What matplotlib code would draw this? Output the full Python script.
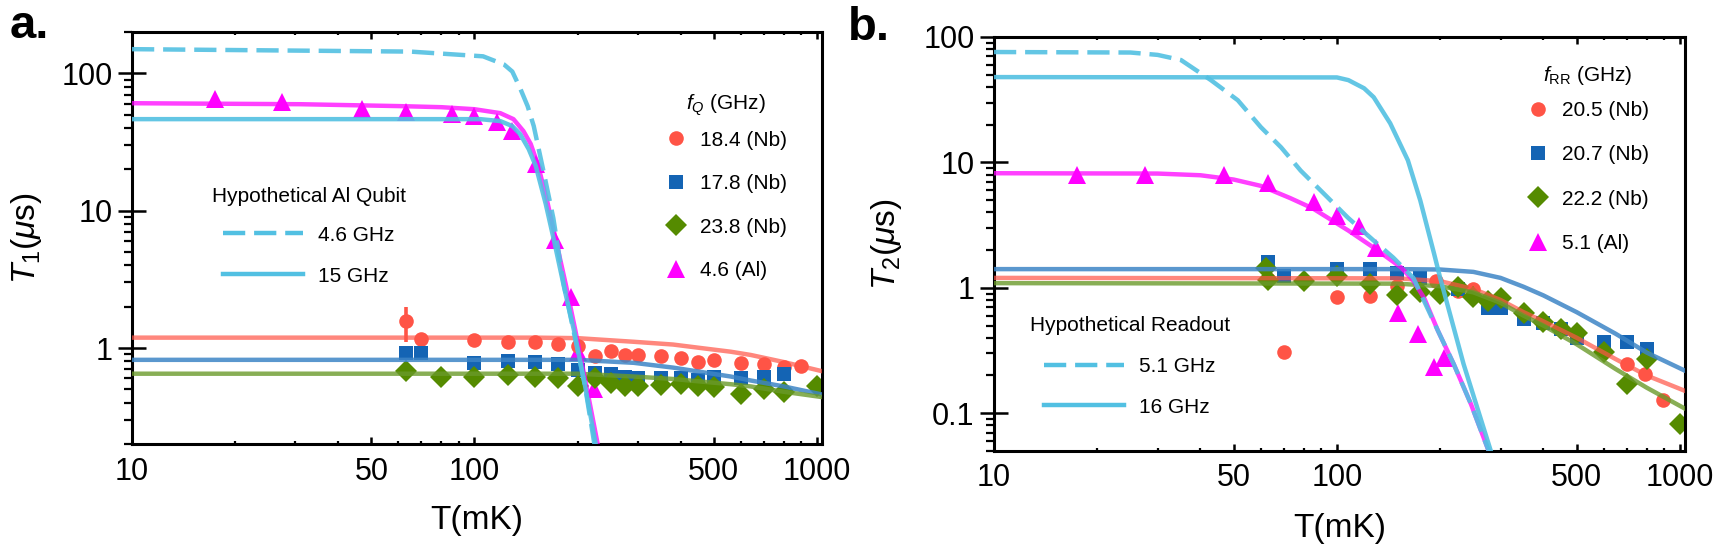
import numpy as np
import matplotlib
matplotlib.use('Agg')
import matplotlib.pyplot as plt
from matplotlib.lines import Line2D
from matplotlib.ticker import FixedLocator, NullFormatter, LogLocator

plt.rcParams['font.family'] = ['Liberation Sans', 'DejaVu Sans']
plt.rcParams['mathtext.fontset'] = 'custom'
plt.rcParams['mathtext.rm'] = 'Liberation Sans'
plt.rcParams['mathtext.it'] = 'Liberation Sans:italic'
plt.rcParams['mathtext.bf'] = 'Liberation Sans:bold'

# ---------------- panel a : T1 ----------------
T_al_a = [17.5, 27.5, 47, 63, 86, 100, 116, 129, 151, 172, 191, 200, 223]
T1_al = [65, 62, 55, 52.5, 50.7, 49.3, 44.4, 38, 21.9, 6.1, 2.34, 0.93, 0.50]

T_red_a = [63, 70, 100, 125, 150, 175, 200, 225, 250, 275, 300, 350, 400, 450, 500, 600, 700, 800, 900]
T1_red = [1.57, 1.16, 1.14, 1.11, 1.11, 1.07, 1.03, 0.87, 0.95, 0.89, 0.89, 0.87, 0.85, 0.79, 0.82, 0.78, 0.76, 0.73, 0.74]
T1_red_err_lo = [1.57 - 1.10]
T1_red_err_hi = [1.98 - 1.57]

T_blue_a = [63, 70, 100, 125, 150, 175, 200, 225, 250, 275, 300, 350, 400, 450, 500, 600, 700, 800]
T1_blue = [0.92, 0.92, 0.78, 0.805, 0.79, 0.76, 0.69, 0.66, 0.65, 0.62, 0.60, 0.60, 0.60, 0.58, 0.61, 0.60, 0.62, 0.65]

T_green_a = [63, 80, 100, 125, 150, 175, 200, 225, 250, 275, 300, 350, 400, 450, 500, 600, 700, 800, 1000]
T1_green = [0.68, 0.62, 0.62, 0.64, 0.62, 0.60, 0.53, 0.60, 0.56, 0.53, 0.53, 0.54, 0.55, 0.53, 0.52, 0.46, 0.50, 0.48, 0.53]

# fits, panel a
fitA_al_T = [10, 31, 61, 80, 100, 119, 130, 139, 146, 153, 163, 173, 185, 197, 212, 229]
fitA_al = [60.6, 59.6, 57.7, 56.7, 54.8, 51.3, 46.4, 38.0, 30.6, 21.9, 11.8, 6.07, 2.87, 1.35, 0.54, 0.20]
fitA_15_T = [10, 104, 119, 129, 136, 144, 151, 161.5, 171.5, 183, 196, 211, 226]
fitA_15 = [46.4, 46.4, 44.9, 41.3, 36.1, 28.1, 21.2, 11.2, 5.77, 2.72, 1.29, 0.51, 0.20]
fitA_46_T = [10, 65, 106, 122, 129, 136, 143, 149, 159, 170, 182, 194.5, 210, 224]
fitA_46 = [150, 144, 133, 116, 103, 77.8, 57.7, 41.3, 19.5, 8.8, 2.96, 1.35, 0.54, 0.20]
fitA_nb_T = [10, 150, 200, 292, 380, 458, 560, 641, 801, 1030]
fitA_red = [1.19, 1.19, 1.18, 1.11, 1.06, 1.0, 0.94, 0.89, 0.79, 0.68]
fitA_blue = [0.82, 0.82, 0.82, 0.78, 0.72, 0.67, 0.62, 0.58, 0.525, 0.46]
fitA_green = [0.65, 0.65, 0.65, 0.62, 0.595, 0.57, 0.545, 0.525, 0.48, 0.44]

# ---------------- panel b : T2 ----------------
T_al_b = [17.5, 27.5, 47, 63, 86, 100, 116, 130, 151, 172, 192, 205]
T2_al = [8.0, 8.0, 7.9, 6.9, 4.8, 3.77, 3.13, 2.09, 0.63, 0.43, 0.233, 0.275]

T_red_b = [63, 70, 100, 125, 150, 195, 225, 250, 700, 790, 890]
T2_red = [1.18, 0.31, 0.85, 0.86, 1.04, 1.14, 0.95, 0.98, 0.247, 0.205, 0.127]

T_blue_b = [63, 70, 100, 125, 150, 175, 225, 275, 300, 350, 400, 450, 500, 600, 700, 800]
T2_blue = [1.62, 1.25, 1.42, 1.42, 1.32, 1.2, 0.97, 0.69, 0.69, 0.565, 0.525, 0.47, 0.40, 0.37, 0.37, 0.325]

T_green_b = [62, 63, 80, 100, 125, 150, 175, 200, 225, 250, 275, 300, 350, 400, 450, 500, 600, 700, 800, 1000]
T2_green = [1.45, 1.15, 1.14, 1.25, 1.08, 0.88, 0.92, 0.90, 1.01, 0.85, 0.79, 0.83, 0.63, 0.53, 0.47, 0.44, 0.31, 0.17, 0.27, 0.082]

# fits, panel b
fitB_al_T = [10, 30, 40, 50, 60, 73, 85, 108, 128, 154, 167, 180, 197, 219, 246, 277]
fitB_al = [8.2, 8.15, 7.9, 7.3, 6.5, 5.2, 4.3, 2.86, 2.09, 1.45, 1.14, 0.82, 0.455, 0.247, 0.118, 0.05]
fitB_51_T = [10, 25, 30, 35.1, 42.9, 51.4, 60, 68.7, 78.4, 94, 107.6, 128, 146, 167, 197, 219, 246, 277]
fitB_51 = [75.9, 75.2, 72, 65.5, 45.3, 31.3, 19.1, 13.2, 8.6, 5.25, 3.63, 2.38, 1.74, 1.2, 0.455, 0.247, 0.118, 0.05]
fitB_16_T = [10, 100, 108, 120, 128, 143, 161, 175, 192, 200, 234, 281]
fitB_16 = [47.9, 47.6, 45.3, 39, 33.1, 20.5, 10.4, 4.97, 1.87, 1.2, 0.247, 0.05]
fitB_nb_T = [10, 150, 200, 250, 300, 350, 400, 500, 650, 800, 1040]
fitB_red = [1.2, 1.19, 1.13, 0.98, 0.80, 0.64, 0.54, 0.40, 0.27, 0.20, 0.15]
fitB_blue = [1.41, 1.41, 1.40, 1.34, 1.2, 1.02, 0.87, 0.64, 0.43, 0.305, 0.217]
fitB_green = [1.09, 1.08, 1.03, 0.92, 0.76, 0.60, 0.50, 0.355, 0.225, 0.16, 0.108]

x_ticks = [10, 50, 100, 500, 1000]
x_ticklabels = ['10', '50', '100', '500', '1000']
x_minor = [20, 30, 40, 60, 70, 80, 90, 200, 300, 400, 600, 700, 800, 900]
ya_ticks = [1, 10, 100]
ya_ticklabels = ['1', '10', '100']
yb_ticks = [0.1, 1, 10, 100]
yb_ticklabels = ['0.1', '1', '10', '100']

RED = '#ff5446'
BLUE = '#1464b4'
BLUE_L = '#3d85c6'
GREEN = '#558b00'
GREEN_L = '#6a9a2a'
MAG = '#ff00ff'
CYAN = '#52c0e2'
LW = 3.2
DASH = (0, (5, 2))

fig = plt.figure(figsize=(17.17, 5.48), dpi=100)
axa = fig.add_axes([132 / 1717, 1 - 444 / 548, 690 / 1717, 412 / 548])
axb = fig.add_axes([994 / 1717, 1 - 451 / 548, 691 / 1717, 414 / 548])


def style(ax, ylim, yt, ytl, ylabel):
    ax.set_xscale('log')
    ax.set_yscale('log')
    ax.set_xlim(10, 1035)
    ax.set_ylim(*ylim)
    ax.xaxis.set_major_locator(FixedLocator(x_ticks))
    ax.set_xticklabels(x_ticklabels)
    ax.xaxis.set_minor_locator(FixedLocator(x_minor))
    ax.xaxis.set_minor_formatter(NullFormatter())
    ax.yaxis.set_major_locator(FixedLocator(yt))
    ax.set_yticklabels(ytl)
    ax.yaxis.set_minor_locator(LogLocator(base=10, subs=np.arange(2, 10)))
    ax.yaxis.set_minor_formatter(NullFormatter())
    ax.tick_params(axis='x', which='major', direction='in', length=5, width=1.8,
                   top=True, labelsize=22, pad=9)
    ax.tick_params(axis='x', which='minor', direction='in', length=2.5, width=1.6, top=True)
    ax.tick_params(axis='y', which='major', direction='inout', length=20, width=1.8,
                   right=False, labelsize=22, pad=4)
    ax.tick_params(axis='y', which='minor', direction='out', length=6, width=1.6, right=False)
    for s in ax.spines.values():
        s.set_linewidth(2.2)
    ax.set_xlabel('T(mK)', fontsize=24)
    ax.set_ylabel(ylabel, fontsize=24)


# ---- panel a ----
axa.plot(T_al_a, T1_al, ls='none', marker='^', ms=13, color=MAG, mew=0, zorder=2)
axa.errorbar(T_red_a[:1], T1_red[:1], yerr=[T1_red_err_lo, T1_red_err_hi], fmt='none',
             ecolor=RED, elinewidth=2.6, capsize=0, zorder=2)
axa.plot(T_red_a, T1_red, ls='none', marker='o', ms=10.5, color=RED, mew=0, zorder=2)
axa.plot(T_blue_a, T1_blue, ls='none', marker='s', ms=10.5, color=BLUE, mew=0, zorder=2)
axa.plot(T_green_a, T1_green, ls='none', marker='D', ms=11, color=GREEN, mew=0, zorder=2)

axa.plot(fitA_nb_T, fitA_red, color=RED, lw=LW, alpha=0.7, zorder=3)
axa.plot(fitA_nb_T, fitA_blue, color=BLUE_L, lw=LW, alpha=0.85, zorder=3)
axa.plot(fitA_nb_T, fitA_green, color=GREEN_L, lw=LW, alpha=0.8, zorder=3)
axa.plot(fitA_al_T, fitA_al, color=MAG, lw=LW, alpha=0.75, zorder=3)
axa.plot(fitA_15_T, fitA_15, color=CYAN, lw=LW, alpha=0.9, zorder=3)
axa.plot(fitA_46_T, fitA_46, color=CYAN, lw=LW, ls=DASH, alpha=0.9, zorder=3)

style(axa, (0.2, 200), ya_ticks, ya_ticklabels, r'$T_1$($\mu$s)')

h_red = Line2D([], [], ls='none', marker='o', ms=10.5, color=RED, mew=0)
h_blue = Line2D([], [], ls='none', marker='s', ms=10.5, color=BLUE, mew=0)
h_green = Line2D([], [], ls='none', marker='D', ms=11, color=GREEN, mew=0)
h_mag = Line2D([], [], ls='none', marker='^', ms=13, color=MAG, mew=0)
h_dash = Line2D([], [], color=CYAN, lw=LW, ls=DASH)
h_solid = Line2D([], [], color=CYAN, lw=LW)

leg1 = axa.legend([h_red, h_blue, h_green, h_mag],
                  ['18.4 (Nb)', '17.8 (Nb)', '23.8 (Nb)', '4.6 (Al)'],
                  title=r'$f_Q$ (GHz)', loc='upper left', bbox_to_anchor=(0.773, 0.853),
                  frameon=False, fontsize=15, title_fontsize=15, handlelength=1.0,
                  handletextpad=0.65, labelspacing=1.18, borderpad=0, borderaxespad=0)
leg1._legend_box.sep = 9
axa.add_artist(leg1)
leg1b = axa.legend([h_dash, h_solid], ['4.6 GHz', '15 GHz'], title='Hypothetical Al Qubit',
                   loc='upper left', bbox_to_anchor=(0.116, 0.623), frameon=False, fontsize=15,
                   title_fontsize=15, handlelength=3.85, handletextpad=0.72, labelspacing=1.05,
                   borderpad=0, borderaxespad=0)
leg1b._legend_box.sep = 14

# ---- panel b ----
axb.plot(T_al_b, T2_al, ls='none', marker='^', ms=13, color=MAG, mew=0, zorder=2)
axb.plot(T_red_b, T2_red, ls='none', marker='o', ms=10.5, color=RED, mew=0, zorder=2)
axb.plot(T_blue_b, T2_blue, ls='none', marker='s', ms=10.5, color=BLUE, mew=0, zorder=2)
axb.plot(T_green_b, T2_green, ls='none', marker='D', ms=11, color=GREEN, mew=0, zorder=2)

axb.plot(fitB_nb_T, fitB_blue, color=BLUE_L, lw=LW, alpha=0.85, zorder=3)
axb.plot(fitB_nb_T, fitB_red, color=RED, lw=LW, alpha=0.7, zorder=3)
axb.plot(fitB_nb_T, fitB_green, color=GREEN_L, lw=LW, alpha=0.8, zorder=3)
axb.plot(fitB_al_T, fitB_al, color=MAG, lw=LW, alpha=0.75, zorder=3)
axb.plot(fitB_16_T, fitB_16, color=CYAN, lw=LW, alpha=0.9, zorder=3)
axb.plot(fitB_51_T, fitB_51, color=CYAN, lw=LW, ls=DASH, alpha=0.9, zorder=3)

style(axb, (0.05, 100), yb_ticks, yb_ticklabels, r'$T_2$($\mu$s)')

leg2 = axb.legend([h_red, h_blue, h_green, h_mag],
                  ['20.5 (Nb)', '20.7 (Nb)', '22.2 (Nb)', '5.1 (Al)'],
                  title=r'$f_{\mathrm{RR}}$ (GHz)', loc='upper left', bbox_to_anchor=(0.772, 0.935),
                  frameon=False, fontsize=15, title_fontsize=15, handlelength=1.0,
                  handletextpad=0.65, labelspacing=1.22, borderpad=0, borderaxespad=0)
leg2._legend_box.sep = 10
axb.add_artist(leg2)
axb.legend([h_dash, h_solid], ['5.1 GHz', '16 GHz'], title='Hypothetical Readout',
           loc='upper left', bbox_to_anchor=(0.052, 0.326), frameon=False, fontsize=15,
           title_fontsize=15, handlelength=3.85, handletextpad=0.72, labelspacing=1.05,
           borderpad=0, borderaxespad=0)

axa.yaxis.set_label_coords(-0.128, 0.5)
axb.yaxis.set_label_coords(-0.130, 0.5)
axa.xaxis.set_label_coords(0.5, -0.148)
axb.xaxis.set_label_coords(0.5, -0.150)

fig.text(10 / 1717, 1 - 38 / 548, 'a.', fontsize=34, fontweight='bold', va='baseline')
fig.text(848 / 1717, 1 - 40 / 548, 'b.', fontsize=34, fontweight='bold', va='baseline')

fig.savefig('out.png', dpi=100)
